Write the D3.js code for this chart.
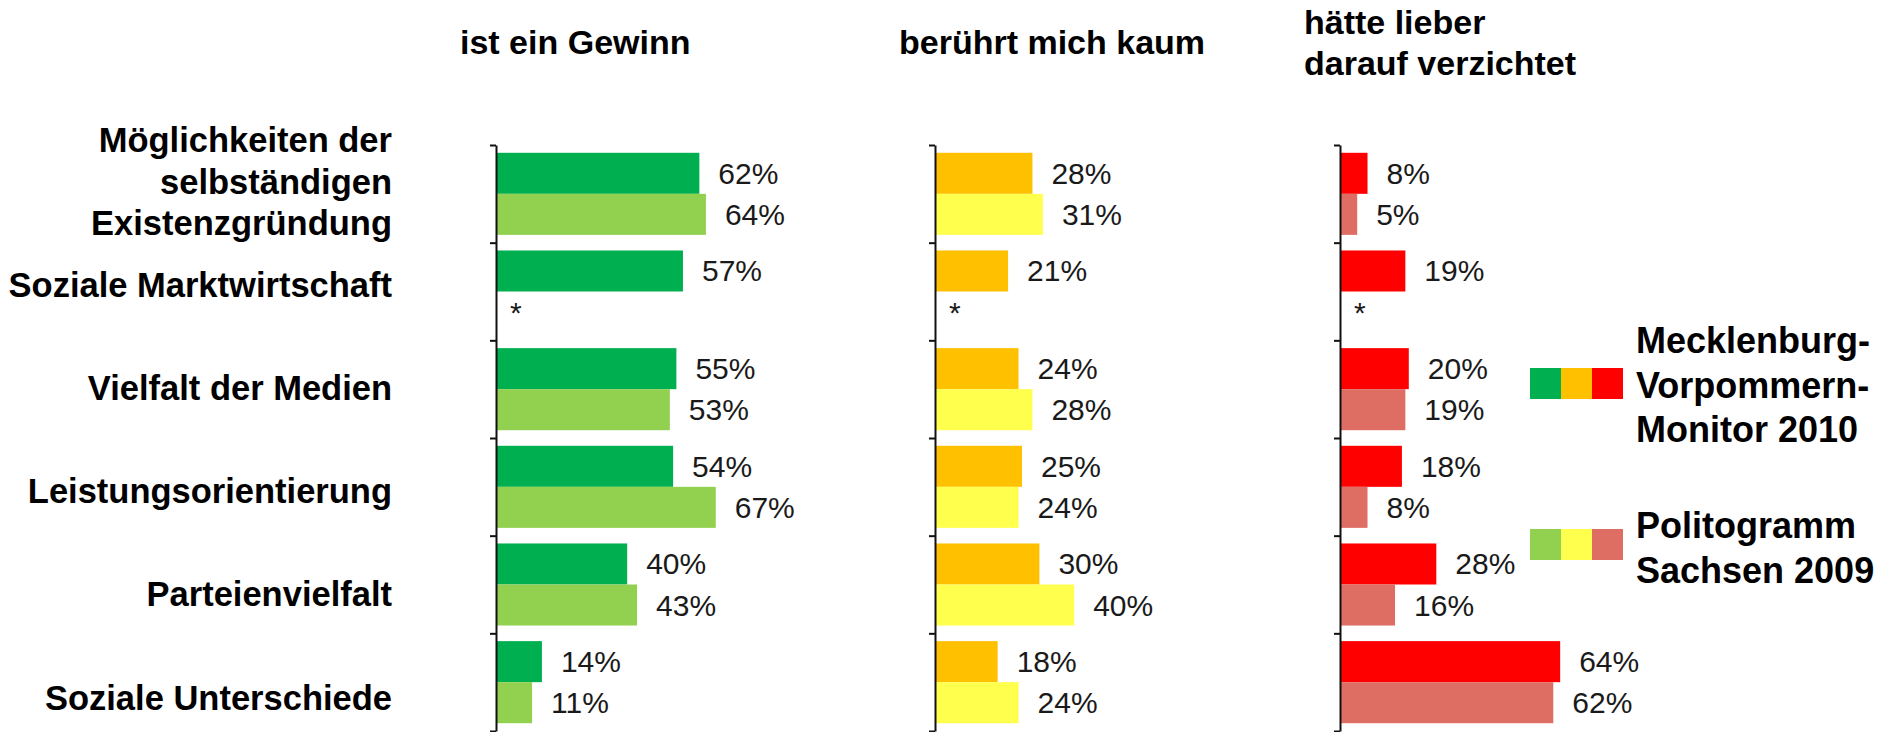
<!DOCTYPE html>
<html>
<head>
<meta charset="utf-8">
<script src="https://cdn.jsdelivr.net/npm/d3@7"></script>
<style>
  body { margin: 0; background: #fff; }
  svg { display: block; font-family: "Liberation Sans", Arial, sans-serif; }
</style>
</head>
<body>
<div id="chart"></div>
<script>
// categories (line breaks as in the original)
var categories = [
  "Möglichkeiten der\nselbständigen\nExistenzgründung",
  "Soziale Marktwirtschaft",
  "Vielfalt der Medien",
  "Leistungsorientierung",
  "Parteienvielfalt",
  "Soziale Unterschiede"
];

var series = ["mv2010", "sn2009"];
var seriesNames = ["Mecklenburg-\nVorpommern-\nMonitor 2010", "Politogramm\nSachsen 2009"];

var panelTitles = ["ist ein Gewinn", "berührt mich kaum", "hätte lieber\ndarauf verzichtet"];

// values in percent, null = not asked (*)
var gewinnMV = [62, 57, 55, 54, 40, 14];
var gewinnSN = [64, null, 53, 67, 43, 11];
var kaumMV = [28, 21, 24, 25, 30, 18];
var kaumSN = [31, null, 28, 24, 40, 24];
var verzichtetMV = [8, 19, 20, 18, 28, 64];
var verzichtetSN = [5, null, 19, 8, 16, 62];

var panelColors = [
  ["#00B050", "#92D050"],
  ["#FFC000", "#FFFF4D"],
  ["#FF0000", "#DE6D64"]
];

var width = 1885,
    height = 732;

var panels = [
  { title: panelTitles[0], values: [gewinnMV, gewinnSN], colors: panelColors[0], x0: 496, w: 328 },
  { title: panelTitles[1], values: [kaumMV, kaumSN], colors: panelColors[1], x0: 935, w: 348 },
  { title: panelTitles[2], values: [verzichtetMV, verzichtetSN], colors: panelColors[2], x0: 1340, w: 344 }
];

var svg = d3.select("#chart")
  .append("svg")
    .attr("width", width)
    .attr("height", height);

var y = d3.scaleBand()
  .domain(categories)
  .range([145, 731])
  .paddingInner(0);

var yEdges = d3.scaleLinear()
  .domain([0, categories.length])
  .range([145, 731]);

var ySeries = d3.scaleBand()
  .domain(series)
  .range([0, y.bandwidth()])
  .paddingInner(0)
  .paddingOuter(0.19);

var yLabel = d3.scalePoint()
  .domain(categories)
  .range([181, 697]);

// category labels
var catLabels = svg.append("g")
  .attr("class", "category-labels")
  .selectAll("text")
  .data(categories)
  .enter()
    .append("text")
    .attr("text-anchor", "end")
    .attr("font-weight", "bold")
    .attr("font-size", "34.5px")
    .attr("fill", "#000");

catLabels.each(function(d) {
  var lines = d.split("\n"),
      lineHeight = 41.5,
      cy = yLabel(d);
  d3.select(this).selectAll("tspan")
    .data(lines)
    .enter()
      .append("tspan")
      .attr("x", 392)
      .attr("y", function(l, i) { return cy + (i - (lines.length - 1) / 2) * lineHeight + 12.5; })
      .text(function(l) { return l; });
});

panels.forEach(function(panel) {
  var x = d3.scaleLinear()
    .domain([0, 100])
    .range([panel.x0, panel.x0 + panel.w]);

  var g = svg.append("g").attr("class", "panel");

  // title
  var titleLines = panel.title.split("\n");
  g.append("text")
    .attr("font-weight", "bold")
    .attr("font-size", "34px")
    .attr("fill", "#000")
    .selectAll("tspan")
    .data(titleLines)
    .enter()
      .append("tspan")
      .attr("x", panel.x0 - 36)
      .attr("y", function(l, i) { return 54 + (i - (titleLines.length - 1) / 2) * 41; })
      .text(function(l) { return l; });

  // bars
  series.forEach(function(s, si) {
    var rows = categories.map(function(c, ci) { return { cat: c, value: panel.values[si][ci] }; });

    g.selectAll(".bar-" + s)
      .data(rows.filter(function(r) { return r.value !== null; }))
      .enter()
        .append("rect")
        .attr("class", "bar-" + s)
        .attr("x", x(0))
        .attr("y", function(r) { return y(r.cat) + ySeries(s); })
        .attr("width", function(r) { return x(r.value) - x(0); })
        .attr("height", ySeries.bandwidth())
        .attr("fill", panel.colors[si]);

    g.selectAll(".label-" + s)
      .data(rows)
      .enter()
        .append("text")
        .attr("class", "label-" + s)
        .attr("x", function(r) { return r.value === null ? x(0) + 14 : x(r.value) + 19; })
        .attr("y", function(r) { return y(r.cat) + ySeries(s) + ySeries.bandwidth() / 2; })
        .attr("dominant-baseline", "central")
        .attr("font-size", "30px")
        .attr("fill", "#1a1a1a")
        .text(function(r) { return r.value === null ? "*" : r.value + "%"; });
  });

  // axis with ticks at band edges
  var axis = d3.axisLeft(yEdges)
    .tickValues(d3.range(0, categories.length + 1))
    .tickSize(6)
    .tickSizeOuter(0)
    .tickFormat("");

  g.append("g")
    .attr("class", "y-axis")
    .attr("transform", "translate(" + x(0) + ",0)")
    .call(axis)
    .call(function(a) {
      a.select(".domain").attr("stroke", "#111").attr("stroke-width", 2);
      a.selectAll(".tick line").attr("stroke", "#111").attr("stroke-width", 2);
    });
});

// legend
var legendRows = [
  { name: seriesNames[0], colors: panels.map(function(p) { return p.colors[0]; }), boxY: 368, textY: 353 },
  { name: seriesNames[1], colors: panels.map(function(p) { return p.colors[1]; }), boxY: 529, textY: 538 }
];

var legend = svg.append("g").attr("class", "legend");

legendRows.forEach(function(row) {
  legend.selectAll(null)
    .data(row.colors)
    .enter()
      .append("rect")
      .attr("x", function(c, i) { return 1530 + i * 31; })
      .attr("y", row.boxY)
      .attr("width", 31)
      .attr("height", 31)
      .attr("fill", function(c) { return c; });

  var lines = row.name.split("\n");
  legend.append("text")
    .attr("font-weight", "bold")
    .attr("font-size", "36px")
    .attr("fill", "#000")
    .selectAll("tspan")
    .data(lines)
    .enter()
      .append("tspan")
      .attr("x", 1636)
      .attr("y", function(l, i) { return row.textY + i * 44.5; })
      .text(function(l) { return l; });
});
</script>
</body>
</html>
